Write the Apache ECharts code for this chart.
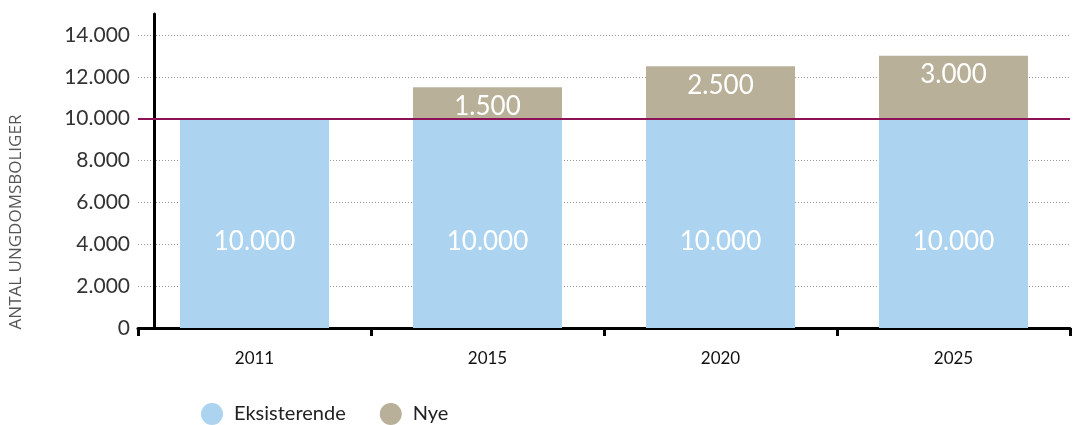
<!DOCTYPE html>
<html>
<head>
<meta charset="utf-8">
<script src="https://cdn.jsdelivr.net/npm/echarts@6/dist/echarts.min.js"></script>
<style>
  html, body { margin: 0; padding: 0; background: #fff; }
  #chart { width: 1078px; height: 425px; }
</style>
</head>
<body>
<div id="chart"></div>
<script>
const years = ["2011", "2015", "2020", "2025"];
const eksisterende = [10000, 10000, 10000, 10000];
const nye = [null, 1500, 2500, 3000];
const referenceLevel = 10000;

// tusindtals-punktum: 10000 -> 10.000
function fmt(v) {
  return String(v).replace(/\B(?=(\d{3})+(?!\d))/g, ".");
}

const font = "Lato, 'Open Sans', sans-serif";
const chart = echarts.init(document.getElementById("chart"));

chart.setOption({
  animation: false,
  textStyle: { fontFamily: font },
  grid: { left: 138, right: 8, top: 14, bottom: 97 },
  legend: {
    left: 196,
    top: 398,
    icon: "circle",
    itemWidth: 22,
    itemHeight: 22,
    itemGap: 34,
    textStyle: { fontSize: 20, color: "#222", fontFamily: font, padding: [0, 0, 0, 6] },
    data: ["Eksisterende", "Nye"],
  },
  graphic: [
    {
      type: "text",
      x: 16,
      y: 222,
      rotation: Math.PI / 2,
      style: {
        text: "ANTAL UNGDOMSBOLIGER",
        fontSize: 17,
        fill: "#555",
        fontFamily: "'Open Sans', sans-serif",
        align: "center",
        verticalAlign: "middle",
      },
    },
  ],
  xAxis: {
    type: "category",
    data: years,
    axisLine: { lineStyle: { color: "#000", width: 3 } },
    axisTick: { show: true, length: 8, lineStyle: { color: "#000", width: 3 } },
    axisLabel: { color: "#111", fontSize: 17, margin: 22 },
  },
  yAxis: {
    type: "value",
    min: 0,
    max: 15000,
    interval: 2000,
    offset: -16,
    axisLine: { show: true, lineStyle: { color: "#000", width: 3 } },
    axisTick: { show: false },
    axisLabel: {
      color: "#333",
      fontSize: 21,
      margin: 24,
      showMaxLabel: false,
      formatter: (v) => (v > 14000 ? "" : fmt(v)),
    },
    splitLine: {
      show: true,
      showMaxLine: false,
      lineStyle: { color: "#999", type: [1, 2], width: 1 },
    },
  },
  series: [
    {
      name: "Eksisterende",
      type: "bar",
      stack: "total",
      barWidth: 149,
      data: eksisterende,
      itemStyle: { color: "#acd3ef" },
      label: {
        show: true,
        position: "inside",
        offset: [0, 18],
        color: "#fff",
        fontSize: 26,
        formatter: (p) => fmt(p.value),
      },
    },
    {
      name: "Nye",
      type: "bar",
      stack: "total",
      barWidth: 149,
      data: nye,
      itemStyle: { color: "#b8b098" },
      label: {
        show: true,
        position: "insideTop",
        distance: 6,
        color: "#fff",
        fontSize: 26,
        formatter: (p) => fmt(p.value),
      },
      markLine: {
        silent: true,
        symbol: "none",
        label: { show: false },
        lineStyle: { color: "#8c1155", width: 2, type: "solid" },
        data: [{ yAxis: referenceLevel }],
      },
    },
  ],
});
</script>
</body>
</html>
